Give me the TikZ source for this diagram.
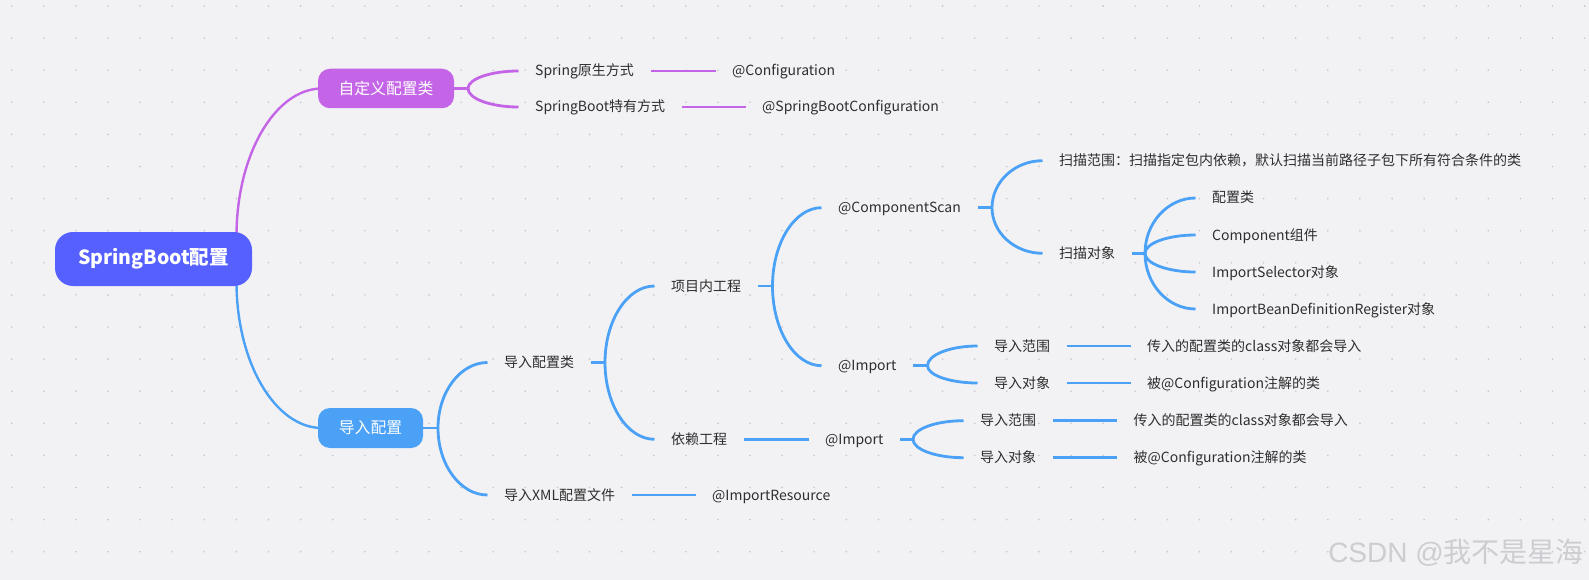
\documentclass[tikz,border=0pt]{standalone}
\usepackage{fontspec}
\setmainfont{Noto Sans CJK SC}
\newfontfamily\wmfont{Liberation Sans}
\usetikzlibrary{calc}
\definecolor{bg}{HTML}{F2F2F5}
\definecolor{dotc}{HTML}{C6C6CC}
\definecolor{rootc}{HTML}{5560FE}
\definecolor{purp}{HTML}{C465E7}
\definecolor{blu}{HTML}{4BA1F6}
\definecolor{txt}{HTML}{2E2E2E}
\definecolor{wm}{HTML}{CDCDD1}
\begin{document}
\begin{tikzpicture}[x=1pt,y=-1pt,
  leaf/.style={anchor=west, inner xsep=16.5pt, inner ysep=0pt, text height=11.5pt, text depth=1.5pt,
    font=\fontsize{14}{16}\selectfont, text=txt},
  forkcurve/.style={to path={.. controls ($(\tikztostart)!0.55!(\tikztostart|-\tikztotarget)$) and ($(\tikztotarget)!0.55!(\tikztostart|-\tikztotarget)$) .. (\tikztotarget)}},
  pl/.style={draw=purp, line width=2.8pt},
  bl/.style={draw=blu, line width=2.8pt},
  box/.style={rounded corners=12pt, text=white, inner sep=0pt, font=\fontsize{15.8}{18}\selectfont}
]
\useasboundingbox (0,0) rectangle (1589,580);
\fill[bg] (0,0) rectangle (1589,580);
\foreach \i in {0,...,49}{\foreach \j in {0,...,17}{\fill[dotc] (11.7+32.1*\i, 6+32.1*\j) circle (0.9);}}

% purple branch
\node[leaf] (a1) at (518.5,71) {Spring原生方式};
\node[leaf] (a2) at (518.5,107) {SpringBoot特有方式};
\node[leaf] (a1b) at (715.5,71) {@Configuration};
\node[leaf] (a2b) at (745.5,107) {@SpringBootConfiguration};
\coordinate (fkc1) at (468,88.5);

% blue branch
\node[leaf] (b1) at (487.5,362.5) {导入配置类};
\node[leaf] (b2) at (487.5,495) {导入XML配置文件};
\node[leaf] (b2b) at (695.5,495) {@ImportResource};
\coordinate (fkc2) at (438,428);

\node[leaf] (d1) at (654.5,286) {项目内工程};
\node[leaf] (d2) at (654.5,439.3) {依赖工程};
\coordinate (fkb1) at (605,362.5);

\node[leaf] (e1) at (821.5,207.7) {@ComponentScan};
\node[leaf] (e2) at (821.5,365.7) {@Import};
\coordinate (fkd1) at (772.5,286);

\node[leaf] (f1) at (1042.5,160.7) {扫描范围：扫描指定包内依赖，默认扫描当前路径子包下所有符合条件的类};
\node[leaf] (f2) at (1042.5,253.3) {扫描对象};
\coordinate (fke1) at (992,207.7);

\node[leaf] (g1) at (1195.5,198) {配置类};
\node[leaf] (g2) at (1195.5,235) {Component组件};
\node[leaf] (g3) at (1195.5,272) {ImportSelector对象};
\node[leaf] (g4) at (1195.5,309) {ImportBeanDefinitionRegister对象};
\coordinate (fkf2) at (1145,253.3);

\node[leaf] (h1) at (977.5,346) {导入范围};
\node[leaf] (h2) at (977.5,383) {导入对象};
\node[leaf] (h1b) at (1130.5,346) {传入的配置类的class对象都会导入};
\node[leaf] (h2b) at (1130.5,383) {被@Configuration注解的类};
\coordinate (fke2) at (927.5,365.7);

\node[leaf] (i1) at (808.5,439.3) {@Import};
\node[leaf] (j1) at (963.5,420.7) {导入范围};
\node[leaf] (j2) at (963.5,457.7) {导入对象};
\node[leaf] (j1b) at (1117,420.7) {传入的配置类的class对象都会导入};
\node[leaf] (j2b) at (1117,457.7) {被@Configuration注解的类};
\coordinate (fki1) at (913,439.3);

% root-level curves (drawn before the boxes so the boxes cover their ends)
\coordinate (rt) at (236.5,236);
\coordinate (rb) at (236.5,282);
\coordinate (c1w) at (322,88.5);
\coordinate (c2w) at (322,428);
\draw[pl, line width=2.4pt] (rt) to[forkcurve] (c1w);
\draw[bl, line width=2.4pt] (rb) to[forkcurve] (c2w);

% main boxes
\node[box, fill=rootc, rounded corners=18pt, minimum width=197pt, minimum height=54pt,
  font=\fontsize{19.5}{22}\selectfont\bfseries] (root) at (153.5,259) {SpringBoot配置};
\node[box, fill=purp, minimum width=136pt, minimum height=39.5pt] (c1) at (386,88.5) {自定义配置类};
\node[box, fill=blu, minimum width=105pt, minimum height=40pt] (c2) at (370.5,428) {导入配置};

\draw[pl] (c1.east) -- (fkc1);
\draw[pl] (fkc1) to[forkcurve] (a1.west);
\draw[pl] (fkc1) to[forkcurve] (a2.west);
\draw[pl] (a1.east) -- (a1b.west);
\draw[pl] (a2.east) -- (a2b.west);

\draw[bl] (c2.east) -- (fkc2);
\draw[bl] (fkc2) to[forkcurve] (b1.west);
\draw[bl] (fkc2) to[forkcurve] (b2.west);
\draw[bl] (b2.east) -- (b2b.west);

\draw[bl] (b1.east) -- (fkb1);
\draw[bl] (fkb1) to[forkcurve] (d1.west);
\draw[bl] (fkb1) to[forkcurve] (d2.west);

\draw[bl] (d1.east) -- (fkd1);
\draw[bl] (fkd1) to[forkcurve] (e1.west);
\draw[bl] (fkd1) to[forkcurve] (e2.west);

\draw[bl] (e1.east) -- (fke1);
\draw[bl] (fke1) to[forkcurve] (f1.west);
\draw[bl] (fke1) to[forkcurve] (f2.west);

\draw[bl] (f2.east) -- (fkf2);
\draw[bl] (fkf2) to[forkcurve] (g1.west);
\draw[bl] (fkf2) to[forkcurve] (g2.west);
\draw[bl] (fkf2) to[forkcurve] (g3.west);
\draw[bl] (fkf2) to[forkcurve] (g4.west);

\draw[bl] (e2.east) -- (fke2);
\draw[bl] (fke2) to[forkcurve] (h1.west);
\draw[bl] (fke2) to[forkcurve] (h2.west);
\draw[bl] (h1.east) -- (h1b.west);
\draw[bl] (h2.east) -- (h2b.west);

\draw[bl] (d2.east) -- (i1.west);
\draw[bl] (i1.east) -- (fki1);
\draw[bl] (fki1) to[forkcurve] (j1.west);
\draw[bl] (fki1) to[forkcurve] (j2.west);
\draw[bl] (j1.east) -- (j1b.west);
\draw[bl] (j2.east) -- (j2b.west);

% watermark
\node[anchor=east, inner sep=0pt, text=wm, font=\fontsize{28}{30}\selectfont] (wmk) at (1584,553) {{\wmfont CSDN @}我不是星海};
\end{tikzpicture}
\end{document}
